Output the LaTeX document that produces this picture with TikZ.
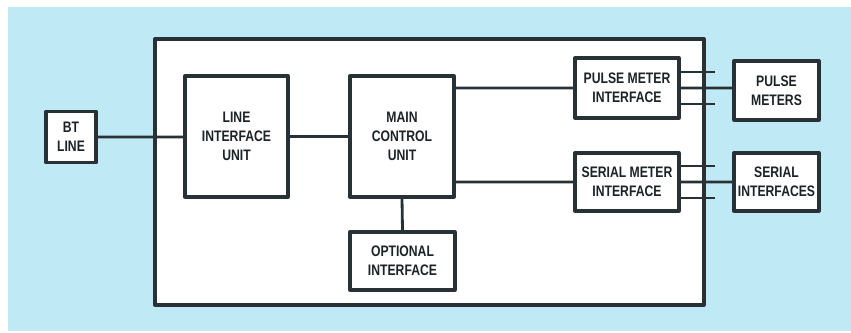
\documentclass[tikz,border=0pt]{standalone}
\usepackage{fontspec}
\setmainfont{Liberation Sans}[FakeStretch=0.8]
\usetikzlibrary{calc}
\definecolor{bgblue}{RGB}{192,233,246}
\definecolor{ink}{RGB}{40,50,54}

\begin{document}
\begin{tikzpicture}[x=0.03cm, y=-0.03cm, line join=round,
  font=\fontsize{13}{16}\selectfont\bfseries,
  unit/.style={draw=ink, line width=2.8pt, fill=white, align=center, inner sep=0pt, text=ink!70!black},
  wire/.style={draw=ink, line width=2.4pt}]
\useasboundingbox (0,0) rectangle (851,332);
%Nền và khung
\fill[bgblue] (8,7) rectangle (851,331);
\draw[ink, line width=2.8pt, fill=white] (155,39) rectangle (704,305);
%Các khối
\node[unit, minimum width=1.5cm, minimum height=1.53cm] (btline) at (71,137) {BT\\LINE};
\node[unit, minimum width=3.09cm, minimum height=3.63cm] (liu) at (236.5,136.5) {LINE\\INTERFACE\\UNIT};
\node[unit, minimum width=3.12cm, minimum height=3.63cm] (mcu) at (402,136.5) {MAIN\\CONTROL\\UNIT};
\node[unit, minimum width=3.15cm, minimum height=1.74cm] (opt) at (402.5,261) {OPTIONAL\\INTERFACE};
\node[unit, minimum width=3.12cm, minimum height=1.8cm] (pmi) at (627,88) {PULSE METER\\INTERFACE};
\node[unit, minimum width=3.12cm, minimum height=1.74cm] (smi) at (627,182) {SERIAL METER\\INTERFACE};
\node[unit, minimum width=2.55cm, minimum height=1.77cm] (pm) at (776.5,90.5) {PULSE\\METERS};
\node[unit, minimum width=2.55cm, minimum height=1.74cm] (si) at (776.5,182) {SERIAL\\INTERFACES};
%Đường nối
\draw[wire] (btline.east) -- (btline.east -| liu.west)
(liu.east) -- (mcu.west)
(pmi.west -| mcu.east) -- (pmi.west)
(smi.west -| mcu.east) -- (smi.west)
(mcu.south) -- (opt.north)
(pmi.east) -- (pmi.east -| pm.west)
(smi.east) -- (smi.east -| si.west)
;
\foreach \b in {pmi,smi}
\foreach \d in {-16,16}
\draw[wire] ($(\b.east)+(0,\d)$) -- ($(\b.east)+(34,\d)$);
\end{tikzpicture}
\end{document}
